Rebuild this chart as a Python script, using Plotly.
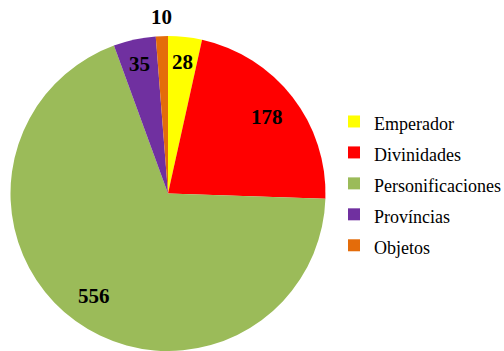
import math
import plotly.graph_objects as go

categories = ["Emperador", "Divinidades", "Personificaciones", "Províncias", "Objetos"]
values = [28, 178, 556, 35, 10]
colors = ["#FFFF00", "#FF0000", "#9BBB59", "#7030A0", "#E46C0A"]
label_radius = [0.84, 0.79, 0.80, 0.84, 1.12]

W, H = 504, 351
# pie domain in pixels
x0, x1 = 10, 326
y_top = 36
dom_x = [x0 / W, x1 / W]
dom_y = [0.0, 1 - y_top / H]

legend_labels = [f'<span style="font-size:18px">{c}</span>' for c in categories]

fig = go.Figure(go.Pie(
    labels=legend_labels, values=values, sort=False, direction="clockwise", rotation=0,
    marker=dict(colors=colors, line=dict(width=0)),
    textinfo="none", hovertext=categories, hoverinfo="text+value",
    domain=dict(x=dom_x, y=dom_y),
))

cx = (x0 + x1) / 2
r = (x1 - x0) / 2
cy = y_top + r
total = sum(values)
cum = 0
annotations = []
for v, rf in zip(values, label_radius):
    mid = (cum + v / 2) / total * 2 * math.pi
    cum += v
    px = cx + rf * r * math.sin(mid)
    py = cy - rf * r * math.cos(mid)
    annotations.append(dict(
        x=px / W, y=1 - py / H, xref="paper", yref="paper", text=f"<b>{v}</b>",
        showarrow=False, xanchor="center", yanchor="middle",
        font=dict(family="Liberation Serif", size=21, color="black"),
    ))

fig.update_layout(
    width=W, height=H, margin=dict(l=0, r=0, t=0, b=0, autoexpand=False),
    paper_bgcolor="white", plot_bgcolor="white",
    annotations=annotations,
    showlegend=True,
    legend=dict(x=334 / W, y=1 - 101 / H, xanchor="left", yanchor="top",
                font=dict(family="Liberation Serif", size=21.5, color="black"),
                itemwidth=30, tracegroupgap=0, bgcolor="rgba(0,0,0,0)"),
)
fig.write_html("out.html", config={"displayModeBar": False},
               post_script="document.body.style.margin='0';document.body.style.overflow='hidden';")
